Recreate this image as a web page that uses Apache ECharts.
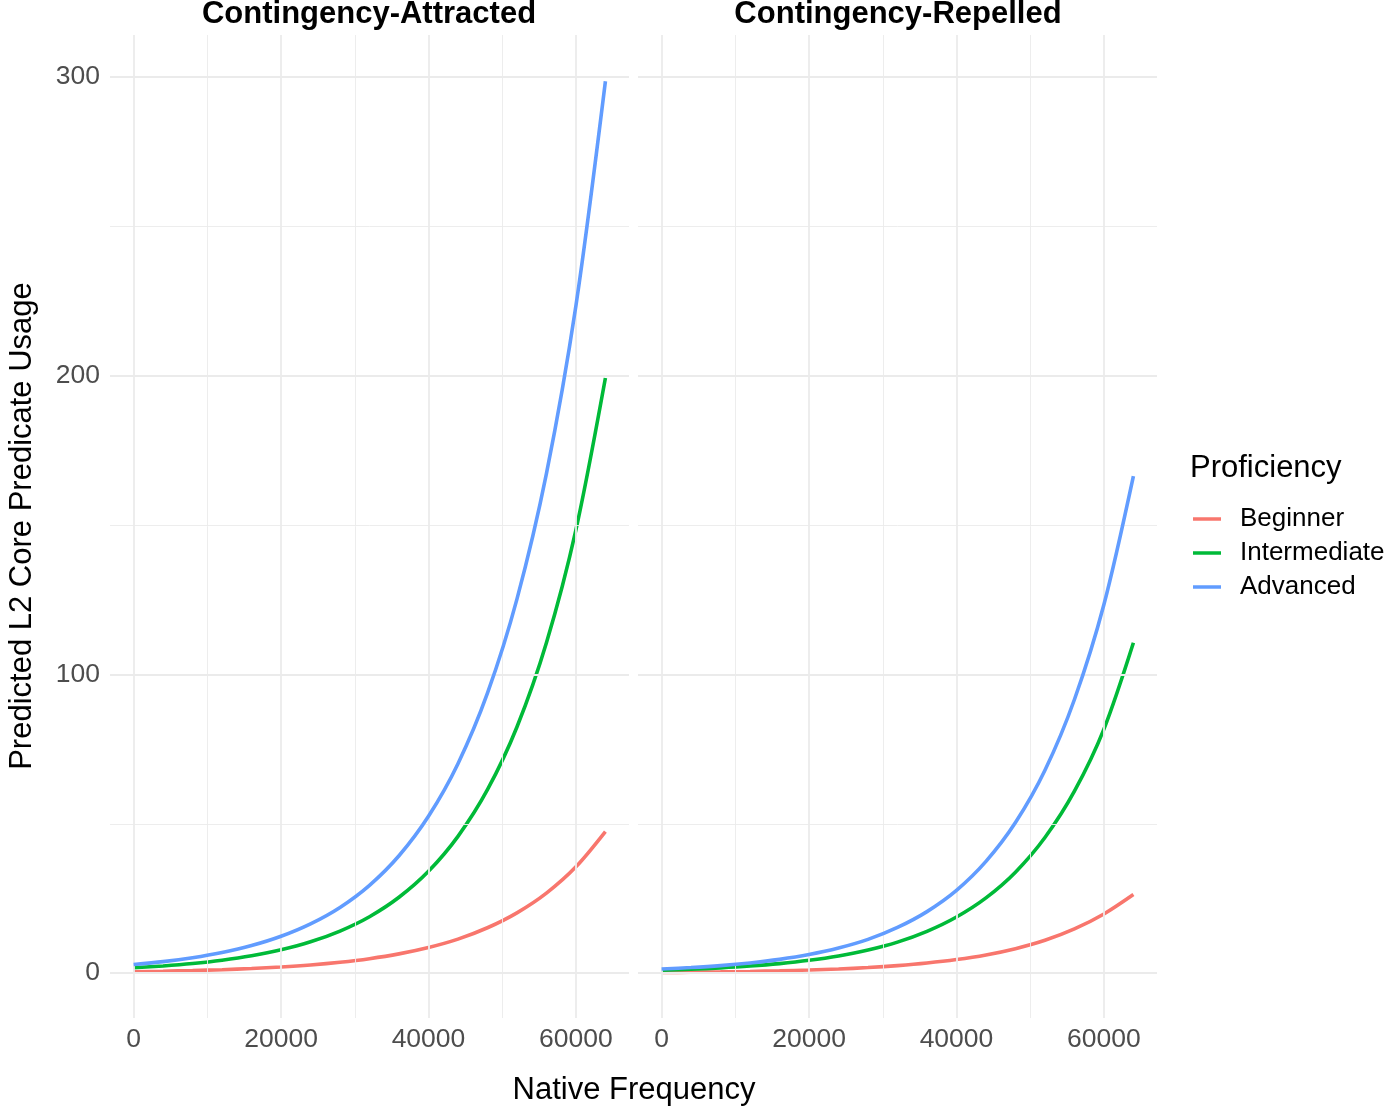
<!DOCTYPE html>
<html>
<head>
<meta charset="utf-8">
<script src="https://cdn.jsdelivr.net/npm/echarts@6/dist/echarts.min.js"></script>
<style>
html,body{margin:0;padding:0;background:#fff;}
#chart{width:1393px;height:1107px;}
</style>
</head>
<body>
<div id="chart"></div>
<script>
// ---- data ----
const panels = ['Contingency-Attracted', 'Contingency-Repelled'];
const levels = ['Beginner', 'Intermediate', 'Advanced'];
const colors = ['#F8766D', '#00BA38', '#619CFF'];
const freq = [0, 4000, 8000, 12000, 16000, 20000, 24000, 28000, 32000, 36000, 40000, 44000, 48000, 52000, 56000, 60000, 64000];

const attractedBeginner = [0.5, 0.66, 0.88, 1.17, 1.56, 2.07, 2.75, 3.66, 4.86, 6.46, 8.59, 11.4, 15.2, 20.2, 26.8, 35.6, 47.4];
const attractedIntermediate = [1.8, 2.42, 3.24, 4.35, 5.84, 7.84, 10.5, 14.1, 18.9, 25.4, 34.1, 45.8, 61.4, 82.4, 110.6, 148.4, 199.2];
const attractedAdvanced = [2.9, 3.87, 5.18, 6.92, 9.24, 12.35, 16.5, 22.0, 29.4, 39.3, 52.5, 70.1, 93.7, 125.2, 167.2, 223.4, 298.5];

const repelledBeginner = [0.24, 0.32, 0.43, 0.58, 0.78, 1.05, 1.4, 1.88, 2.53, 3.39, 4.55, 6.1, 8.2, 11.0, 14.8, 19.8, 26.3];
const repelledIntermediate = [0.99, 1.33, 1.78, 2.39, 3.21, 4.31, 5.78, 7.76, 10.4, 14.0, 18.8, 25.2, 33.8, 45.4, 60.9, 81.7, 110.6];
const repelledAdvanced = [1.4, 1.89, 2.54, 3.43, 4.62, 6.23, 8.4, 11.3, 15.3, 20.6, 27.7, 37.4, 50.4, 67.9, 91.6, 123.4, 166.4];

const xTickLabels = [0, 20000, 40000, 60000];
const xMajor = [0, 20000, 40000, 60000];
const xMinor = [10000, 30000, 50000];
const yTickLabels = [0, 100, 200, 300];
const yMajor = [0, 100, 200, 300];
const yMinor = [50, 150, 250];

const panelData = [
  [attractedBeginner, attractedIntermediate, attractedAdvanced],
  [repelledBeginner, repelledIntermediate, repelledAdvanced]
];

// ---- chart ----
const FONT = '"Liberation Sans", Arial, Helvetica, sans-serif';
const chart = echarts.init(document.getElementById('chart'), null, {renderer: 'canvas'});

const grids = [
  {left: 110, top: 35, width: 519, height: 983},
  {left: 638, top: 35, width: 519, height: 983}
];

const plain = v => String(v);

const xAxes = grids.map((g, i) => ({
  type: 'value', gridIndex: i, min: -3200, max: 67200,
  axisLine: {show: false}, axisTick: {show: false}, splitLine: {show: false},
  axisLabel: {customValues: xTickLabels, formatter: plain, color: '#4d4d4d', fontSize: 26.5, fontFamily: FONT, margin: 8}
}));
const yAxes = grids.map((g, i) => ({
  type: 'value', gridIndex: i, min: -15, max: 314,
  axisLine: {show: false}, axisTick: {show: false}, splitLine: {show: false},
  axisLabel: {show: i === 0, customValues: yTickLabels, formatter: plain, color: '#4d4d4d', fontSize: 26.5, fontFamily: FONT, margin: 10}
}));

const series = [];
grids.forEach((g, i) => {
  const ml = [];
  xMajor.forEach(v => ml.push({xAxis: v, lineStyle: {width: 1.8}}));
  xMinor.forEach(v => ml.push({xAxis: v, lineStyle: {width: 0.9}}));
  yMajor.forEach(v => ml.push({yAxis: v, lineStyle: {width: 1.8}}));
  yMinor.forEach(v => ml.push({yAxis: v, lineStyle: {width: 0.9}}));
  series.push({
    type: 'line', name: 'grid' + i, xAxisIndex: i, yAxisIndex: i, data: [], z: 1,
    silent: true, legendHoverLink: false,
    markLine: {
      silent: true, symbol: ['none', 'none'], label: {show: false},
      lineStyle: {color: '#ebebeb', type: 'solid'},
      emphasis: {disabled: true}, animation: false, data: ml
    }
  });
  levels.forEach((lev, k) => {
    series.push({
      type: 'line', name: lev, xAxisIndex: i, yAxisIndex: i, z: 3 + k,
      showSymbol: false, symbol: 'none', smooth: 0.3,
      lineStyle: {color: colors[k], width: 3.6},
      itemStyle: {color: colors[k]},
      emphasis: {disabled: true},
      data: freq.map((x, j) => [x, panelData[i][k][j]])
    });
  });
});

const option = {
  animation: false,
  backgroundColor: '#ffffff',
  grid: grids,
  xAxis: xAxes,
  yAxis: yAxes,
  legend: {
    data: levels.map(l => ({name: l, icon: 'rect'})),
    orient: 'vertical', left: 1188, top: 497,
    itemWidth: 28, itemHeight: 3.5, itemGap: 0,
    selectedMode: false,
    textStyle: {fontSize: 26, fontFamily: FONT, color: '#000', lineHeight: 34, padding: [0, 0, 0, 14]}
  },
  graphic: [
    {type: 'text', x: 369, y: 14, style: {text: panels[0], font: 'bold 31px ' + FONT, fill: '#000', textAlign: 'center', textVerticalAlign: 'middle'}},
    {type: 'text', x: 898, y: 14, style: {text: panels[1], font: 'bold 31px ' + FONT, fill: '#000', textAlign: 'center', textVerticalAlign: 'middle'}},
    {type: 'text', x: 634, y: 1090, style: {text: 'Native Frequency', font: '31px ' + FONT, fill: '#000', textAlign: 'center', textVerticalAlign: 'middle'}},
    {type: 'text', x: 22, y: 526, rotation: Math.PI / 2, style: {text: 'Predicted L2 Core Predicate Usage', font: '31px ' + FONT, fill: '#000', textAlign: 'center', textVerticalAlign: 'middle'}},
    {type: 'text', x: 1190, y: 468, style: {text: 'Proficiency', font: '31px ' + FONT, fill: '#000', textAlign: 'left', textVerticalAlign: 'middle'}}
  ],
  series: series
};
chart.setOption(option);
</script>
</body>
</html>
